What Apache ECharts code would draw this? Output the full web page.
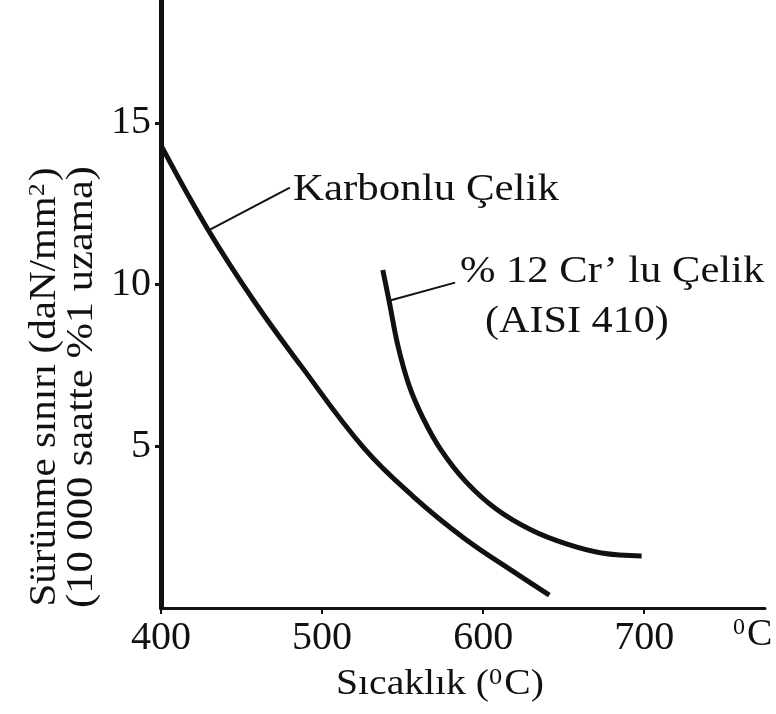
<!DOCTYPE html>
<html>
<head>
<meta charset="utf-8">
<script src="https://cdn.jsdelivr.net/npm/echarts@6/dist/echarts.min.js"></script>
<style>
html, body { margin: 0; padding: 0; background: #fff; }
#chart { width: 776px; height: 714px; }
</style>
</head>
<body>
<div id="chart"></div>
<script>
var xTicks = [400, 500, 600, 700];
var yTicks = [5, 10, 15];

// Karbonlu Çelik
var carbonTemp = [400.6, 429.3, 458.6, 486.6, 525.9, 557.0, 588.2, 619.3, 641.1];
var carbonStress = [14.25, 11.69, 9.43, 7.51, 4.95, 3.43, 2.16, 1.11, 0.40];

// % 12 Cr' lu Çelik (AISI 410)
var crTemp = [537.7, 542.1, 547.0, 553.9, 562.6, 573.8, 589.4, 608.1, 629.9, 651.7, 673.5, 698.4];
var crStress = [10.45, 9.37, 8.13, 6.90, 5.88, 4.89, 3.90, 3.06, 2.41, 1.98, 1.70, 1.61];

var ink = '#111';
var serif = '"Liberation Serif", "DejaVu Serif", serif';

function pairs(xs, ys) {
	var out = [];
	for (var i = 0; i < xs.length; i++) {
		out.push([xs[i], ys[i]]);
	}
	return out;
}

var supStyle = { fontSize: 24, fontFamily: serif, color: ink, verticalAlign: 'top', padding: [0, 2, 14, 0] };

var chart = echarts.init(document.getElementById('chart'));

var option = {
	animation: false,
	backgroundColor: '#fff',
	grid: { left: 161, right: 11, top: 0, bottom: 106 },
	xAxis: {
		type: 'value',
		min: 400,
		max: 775,
		splitLine: { show: false },
		axisLine: { lineStyle: { color: ink, width: 3 } },
		axisTick: { customValues: xTicks, length: 6, lineStyle: { color: ink, width: 2 } },
		axisLabel: { customValues: xTicks, color: ink, fontFamily: serif, fontSize: 40, margin: 10 }
	},
	yAxis: {
		type: 'value',
		min: 0,
		max: 18.8,
		splitLine: { show: false },
		axisLine: { lineStyle: { color: ink, width: 5 } },
		axisTick: { customValues: yTicks, length: 6, lineStyle: { color: ink, width: 3 } },
		axisLabel: { customValues: yTicks, color: ink, fontFamily: serif, fontSize: 40, margin: 10 }
	},
	series: [{
		name: 'Karbonlu Çelik',
		type: 'line',
		smooth: 0.4,
		symbol: 'none',
		lineStyle: { color: ink, width: 5 },
		data: pairs(carbonTemp, carbonStress),
		markLine: {
			silent: true,
			symbol: 'none',
			label: { show: false },
			lineStyle: { color: ink, width: 2, type: 'solid' },
			data: [[{ coord: [430.4, 11.7] }, { coord: [480, 13.0] }]]
		}
	}, {
		name: '% 12 Cr’ lu Çelik',
		type: 'line',
		smooth: 0.4,
		symbol: 'none',
		lineStyle: { color: ink, width: 5 },
		data: pairs(crTemp, crStress),
		markLine: {
			silent: true,
			symbol: 'none',
			label: { show: false },
			lineStyle: { color: ink, width: 2, type: 'solid' },
			data: [[{ coord: [541.6, 9.5] }, { coord: [582.6, 10.06] }]]
		}
	}],
	graphic: [{
		type: 'text', x: 293, y: 190, scaleX: 1.13,
		style: { text: 'Karbonlu Çelik', fill: ink, font: '38px ' + serif, verticalAlign: 'middle' }
	}, {
		type: 'text', x: 460, y: 272, scaleX: 1.12,
		style: { text: '% 12 Cr’ lu Çelik', fill: ink, font: '38px ' + serif, verticalAlign: 'middle' }
	}, {
		type: 'text', x: 485, y: 322, scaleX: 1.11,
		style: { text: '(AISI 410)', fill: ink, font: '38px ' + serif, verticalAlign: 'middle' }
	}, {
		type: 'text', x: 733, y: 616,
		style: {
			text: '{sup|0}C', fill: ink, font: '38px ' + serif,
			rich: { sup: supStyle }
		}
	}, {
		type: 'text', x: 440, y: 685, scaleX: 1.1,
		style: {
			text: 'Sıcaklık ({sup|0}C)', fill: ink, font: '36px ' + serif,
			align: 'center', verticalAlign: 'middle',
			rich: { sup: supStyle }
		}
	}, {
		type: 'text', x: 45, y: 387, rotation: Math.PI / 2, scaleX: 1.08,
		style: {
			text: 'Sürünme sınırı (daN/mm{sup|2})', fill: ink, font: '38px ' + serif,
			align: 'center', verticalAlign: 'middle',
			rich: { sup: supStyle }
		}
	}, {
		type: 'text', x: 82, y: 387, rotation: Math.PI / 2, scaleX: 1.12,
		style: {
			text: '(10 000 saatte %1 uzama)', fill: ink, font: '38px ' + serif,
			align: 'center', verticalAlign: 'middle'
		}
	}]
};

chart.setOption(option);
</script>
</body>
</html>
